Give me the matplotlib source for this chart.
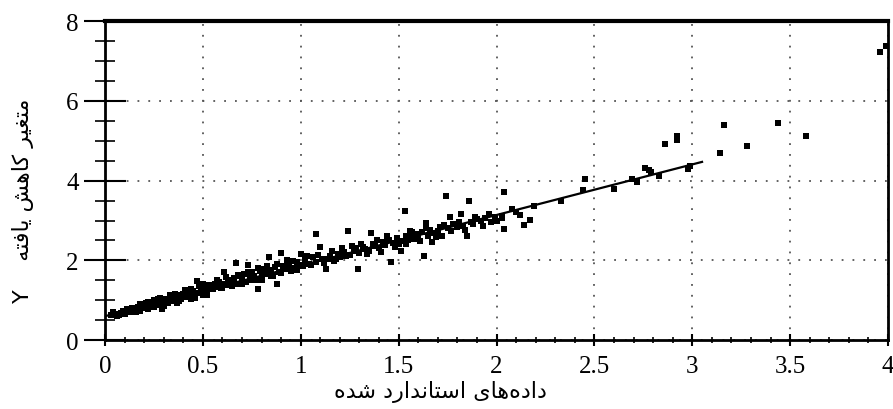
import matplotlib
matplotlib.use("Agg")
import matplotlib.pyplot as plt
from matplotlib.ticker import MultipleLocator, FixedLocator

# ---------------- data ----------------
x_vals = [
    0.03, 0.05, 0.06, 0.08, 0.09, 0.10, 0.12, 0.13, 0.14, 0.15, 0.17, 0.18, 0.19, 0.20, 0.21, 0.22,
    0.23, 0.24, 0.25, 0.26, 0.27, 0.28, 0.29, 0.30, 0.31, 0.32, 0.33, 0.34, 0.35, 0.36, 0.37, 0.38,
    0.39, 0.40, 0.41, 0.42, 0.43, 0.44, 0.45, 0.46, 0.47, 0.48, 0.49, 0.50, 0.51, 0.52, 0.53, 0.54,
    0.55, 0.56, 0.57, 0.58, 0.59, 0.60, 0.61, 0.62, 0.63, 0.64, 0.65, 0.66, 0.67, 0.68, 0.69, 0.70,
    0.71, 0.72, 0.73, 0.74, 0.75, 0.76, 0.77, 0.78, 0.79, 0.80, 0.81, 0.82, 0.83, 0.84, 0.85, 0.86,
    0.87, 0.88, 0.89, 0.90, 0.91, 0.92, 0.93, 0.94, 0.95, 0.96, 0.97, 0.98, 0.99, 1.00,
    1.01, 1.02, 1.04, 1.06, 1.08, 1.08, 1.10, 1.11, 1.13, 1.14, 1.15, 1.17, 1.19, 1.20, 1.22, 1.24,
    1.25, 1.27, 1.28, 1.29, 1.30, 1.32, 1.33, 1.35, 1.36, 1.37, 1.38, 1.40, 1.42, 1.43, 1.45, 1.46,
    1.47, 1.49, 1.50,
    1.51, 1.52, 1.53, 1.54, 1.55, 1.56, 1.57, 1.58, 1.59, 1.60, 1.62, 1.63, 1.64, 1.65, 1.66, 1.67,
    1.68, 1.70, 1.71, 1.72, 1.74, 1.75, 1.76, 1.78, 1.80, 1.82, 1.83, 1.85, 1.86, 1.87, 1.88, 1.90,
    1.92, 1.94, 1.97, 1.99,
    2.00, 2.03, 2.03, 2.04, 2.04, 2.08, 2.10, 2.12, 2.14, 2.17, 2.19, 2.33, 2.44, 2.45, 2.60, 2.69,
    2.72, 2.76, 2.78, 2.79, 2.83, 2.86, 2.92, 2.92, 2.98, 2.99,
    3.14, 3.16, 3.28, 3.44, 3.58, 3.96, 3.99,
    # second layer of the dense band
    0.04, 0.07, 0.11, 0.16, 0.18, 0.22, 0.25, 0.28, 0.30, 0.33, 0.36, 0.38, 0.41, 0.44, 0.46, 0.48,
    0.50, 0.52,
    0.57, 0.60, 0.62, 0.65, 0.68, 0.70, 0.73, 0.75, 0.78, 0.80, 0.83, 0.85, 0.88, 0.90, 0.93, 0.95,
    0.98,
    1.03, 1.05, 1.09, 1.12, 1.16, 1.18, 1.21, 1.23, 1.26, 1.31, 1.34, 1.39, 1.41, 1.44, 1.48,
    1.54, 1.57, 1.61, 1.64, 1.69, 1.73, 1.77, 1.81, 1.84, 1.89, 1.93, 1.96,
]
y_vals = [
    0.62, 0.66, 0.60, 0.68, 0.72, 0.65, 0.74, 0.70, 0.80, 0.76, 0.84, 0.72, 0.88, 0.80, 0.92, 0.78,
    0.86, 0.95, 0.84, 0.90, 1.02, 0.88, 0.78, 0.96, 1.04, 0.92, 1.00, 1.10, 0.98, 1.06, 0.94, 1.12,
    1.02, 1.16, 1.08, 1.20, 1.12, 1.02, 1.22, 1.14, 1.48, 1.18, 1.24, 1.12, 1.32, 1.22, 1.38, 1.28,
    1.28, 1.40, 1.34, 1.46, 1.30, 1.42, 1.70, 1.38, 1.50, 1.44, 1.48, 1.56, 1.93, 1.40, 1.60, 1.52,
    1.66, 1.46, 1.88, 1.58, 1.70, 1.60, 1.52, 1.28, 1.74, 1.62, 1.78, 1.66, 1.70, 2.08, 1.76, 1.62,
    1.84, 1.40, 1.72, 2.18, 1.86, 1.78, 1.85, 1.92, 1.74, 1.98, 1.82, 1.95, 1.88, 2.16,
    1.86, 2.00, 1.92, 2.08, 2.66, 1.96, 2.33, 2.04, 1.78, 2.03, 2.12, 1.98, 2.16, 2.08, 2.22, 2.73,
    2.14, 2.23, 2.30, 1.78, 2.18, 2.34, 2.28, 2.24, 2.68, 2.40, 2.36, 2.30, 2.46, 2.38, 2.52, 1.96,
    2.44, 2.56, 2.40,
    2.23, 2.48, 3.23, 2.60, 2.52, 2.73, 2.58, 2.53, 2.66, 2.56, 2.70, 2.11, 2.93, 2.62, 2.76, 2.45,
    2.68, 2.73, 2.84, 2.62, 3.61, 2.80, 3.08, 2.90, 2.83, 3.16, 2.86, 2.61, 3.48, 2.96, 2.92, 3.03,
    2.98, 3.06, 2.96, 3.10,
    2.98, 3.06, 3.11, 2.78, 3.71, 3.30, 3.21, 3.13, 2.88, 3.01, 3.36, 3.48, 3.76, 4.04, 3.78, 4.03,
    3.96, 4.31, 4.26, 4.21, 4.11, 4.91, 5.11, 5.01, 4.29, 4.36,
    4.69, 5.39, 4.86, 5.44, 5.11, 7.22, 7.37,
    # second layer of the dense band
    0.70, 0.62, 0.78, 0.70, 0.90, 0.96, 1.00, 1.05, 0.86, 1.14, 1.16, 0.98, 1.26, 1.28, 1.06, 1.35,
    1.40, 1.14,
    1.52, 1.30, 1.58, 1.36, 1.64, 1.42, 1.72, 1.50, 1.82, 1.52, 1.86, 1.60, 1.90, 1.68, 2.00, 1.82,
    1.76,
    2.10, 1.88, 2.14, 1.94, 2.24, 2.04, 2.30, 2.10, 2.36, 2.42, 2.16, 2.50, 2.22, 2.60, 2.34,
    2.40, 2.70, 2.48, 2.80, 2.58, 2.88, 2.74, 2.96, 2.76, 3.10, 2.86, 3.16,
]

fit_x = [0.0, 3.05]
fit_y = [0.60, 4.47]

x_ticks = [0, 0.5, 1, 1.5, 2, 2.5, 3, 3.5, 4]
x_tick_labels = ["0", "0.5", "1", "1.5", "2", "2.5", "3", "3.5", "4"]
y_ticks = [0, 2, 4, 6, 8]
y_tick_labels = ["0", "2", "4", "6", "8"]


def pf(*cps):
    # Persian text written with Arabic presentation forms (visual order)
    return "".join(chr(c) for c in cps)


# "داده‌های استاندارد شده"
x_label = (pf(0xFEE9, 0xFEAA, 0xFEB7) + " "
           + pf(0xFEA9, 0xFEAD, 0xFE8D, 0xFEAA, 0xFEE7, 0xFE8E, 0xFE98, 0xFEB3, 0xFE8D) + " "
           + pf(0xFBFC, 0xFE8E, 0xFEEB, 0xFEE9, 0xFEA9, 0xFE8D, 0xFEA9))
# "متغیر کاهش یافته   Y"
y_label = ("Y    "
           + pf(0xFEEA, 0xFE98, 0xFED3, 0xFE8E, 0xFBFE) + " "
           + pf(0xFEB6, 0xFEEB, 0xFE8E, 0xFB90) + " "
           + pf(0xFEAE, 0xFBFF, 0xFED0, 0xFE98, 0xFEE3))

# ---------------- figure ----------------
fig = plt.figure(figsize=(8.93, 4.10), dpi=100)
ax = fig.add_axes([0.1176, 0.168, 0.8768, 0.778])

ax.scatter(x_vals, y_vals, marker="s", s=22, color="black", linewidths=0, zorder=3)
ax.plot(fit_x, fit_y, color="black", linewidth=1.6, zorder=4)

ax.set_xlim(0, 4)
ax.set_ylim(0, 8)

ax.xaxis.set_major_locator(FixedLocator(x_ticks))
ax.set_xticklabels(x_tick_labels)
ax.yaxis.set_major_locator(FixedLocator(y_ticks))
ax.set_yticklabels(y_tick_labels)
ax.xaxis.set_minor_locator(MultipleLocator(0.1))
ax.yaxis.set_minor_locator(MultipleLocator(0.5))

ax.grid(True, which="major", color="#555555", linestyle=(0, (1, 5)), linewidth=1.3)

for lab in ax.get_xticklabels() + ax.get_yticklabels():
    lab.set_family("Liberation Serif")
    lab.set_fontsize(18)

ax.tick_params(axis="x", which="major", direction="inout", length=9, width=1.5, pad=6)
ax.tick_params(axis="x", which="minor", direction="inout", length=5, width=1.2)
ax.tick_params(axis="y", which="major", direction="inout", length=30, width=1.5, pad=4)
ax.tick_params(axis="y", which="minor", direction="inout", length=14, width=1.2)

for side in ["left", "bottom", "right"]:
    ax.spines[side].set_linewidth(2.0)
ax.spines["top"].set_linewidth(3.0)

fig.text(0.493, 0.043, x_label, ha="center", va="center", fontsize=16,
         family=["DejaVu Sans"])
fig.text(0.026, 0.51, y_label, ha="center", va="center", rotation=90, fontsize=16,
         family=["DejaVu Sans"])

fig.savefig("out.png", dpi=100)
